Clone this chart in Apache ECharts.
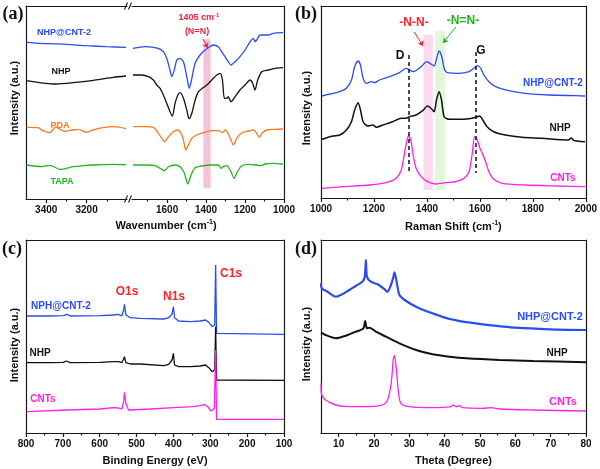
<!DOCTYPE html>
<html><head><meta charset="utf-8">
<script src="https://cdn.jsdelivr.net/npm/echarts@6/dist/echarts.min.js"></script>
<style>html,body{margin:0;padding:0;background:#fff}#c{width:600px;height:469px}</style>
</head><body><div id="c"></div>
<script>
// ---------- DATA ----------
// (a) FTIR, left segment (wavenumber, relative intensity)
const ftirCntL = [[3497,156.7],[3431,155.7],[3365,155.2],[3299,154.7],[3200,153.3],[3102,152.3],[3005,151.7]];
const ftirNhpL = [[3497,118.3],[3431,116.3],[3365,115],[3299,115.7],[3216,117.3],[3134,119.7],[3068,121.7],[3005,123]];
const ftirPdaL = [[3497,71.7],[3440,71.3],[3415,68.3],[3382,66.3],[3365,69.7],[3352,72],[3332,69.7],[3308,67.7],[3275,69],[3242,69.7],[3201,66.7],[3168,69],[3119,71.3],[3061,72.3],[3005,70.3]];
const ftirTapaL = [[3497,34],[3423,32.3],[3382,33.7],[3332,29.7],[3266,32.3],[3201,33.7],[3135,34.3],[3069,34.7],[3005,34.3]];
// (a) FTIR, right segment
const ftirCntR = [[1775,150.7],[1713,152.3],[1645,150.7],[1619,147.3],[1602,140.7],[1585,129],[1576,122.3],[1563,129],[1550,139],[1533,140.7],[1516,137.3],[1499,122.3],[1486,110.7],[1473,120.7],[1456,135.7],[1431,144],[1405,149],[1380,152.3],[1363,154],[1337,152.3],[1320,147.3],[1303,142.3],[1286,137.3],[1272,134],[1251,137.3],[1226,142.3],[1200,149],[1174,157.3],[1157,160.7],[1149,157.3],[1140,159],[1123,164],[1080,164],[1055,165.7],[1005,166.3]];
const ftirNhpR = [[1775,124],[1730,124],[1696,122.3],[1670,119],[1653,114],[1636,110.7],[1619,104],[1602,95.7],[1585,87.3],[1573,83],[1559,95.7],[1545,104],[1533,106.3],[1516,100.7],[1499,89],[1487,80.3],[1473,85.7],[1456,99],[1439,107.3],[1419,110.7],[1396,114],[1371,119],[1345,124],[1328,125.7],[1316,119],[1306,100.7],[1294,100.7],[1286,102.3],[1272,97.3],[1251,102.3],[1226,109],[1200,114],[1174,119],[1161,115.7],[1149,109],[1135,119],[1114,127.3],[1081,129],[1046,130.7],[1005,131.3]];
const ftirPdaR = [[1775,72.3],[1713,72.3],[1670,71.7],[1645,65.7],[1627,60.7],[1614,57.3],[1593,62.3],[1568,67.3],[1545,69],[1528,65.7],[1516,59],[1504,49],[1491,54],[1473,60.7],[1448,64],[1414,66.3],[1371,68.3],[1337,68.3],[1314,66.3],[1303,69],[1286,65.7],[1272,59],[1260,54],[1243,60.7],[1217,66.3],[1183,68],[1157,69],[1140,65.7],[1127,61.7],[1111,66.3],[1089,69],[1046,69.7],[1005,70]];
const ftirTapaR = [[1775,34],[1713,34],[1662,33.3],[1636,30.7],[1614,28.3],[1593,32.3],[1559,34],[1533,32.3],[1511,25.7],[1494,15],[1477,24],[1456,31.3],[1422,33],[1371,34],[1337,34],[1323,30.7],[1311,32.3],[1294,33.3],[1272,27.3],[1256,20.7],[1239,27.3],[1217,33.3],[1183,34.7],[1140,34],[1123,33.3],[1097,35],[1055,35.7],[1005,35]];
const ftirBand = [1414, 1376];

// (b) Raman (shift, relative intensity)
const ramanCnt2 = [[1003,102],[1034,104],[1071,106.3],[1096,109.7],[1115,118],[1127,131.3],[1140,137],[1149,133],[1159,119.7],[1171,114.7],[1190,116.3],[1202,115.3],[1221,118],[1259,121.3],[1296,125.3],[1321,129.7],[1332,128.5],[1345,126.5],[1358,127.3],[1378,131.3],[1399,136.3],[1415,134],[1427,132],[1438,141.3],[1446,147],[1456,141.3],[1465,129.7],[1477,125.3],[1521,124.7],[1559,126.3],[1577,129.7],[1590,132.3],[1603,129.7],[1615,123],[1634,116.3],[1659,111.3],[1709,107.3],[1771,104.7],[1859,103],[1959,102.3],[1997,102]];
const ramanNhp = [[1003,58.7],[1034,61.3],[1071,63],[1096,68],[1115,76.3],[1127,88],[1140,95.3],[1149,88],[1159,76.3],[1177,72],[1196,73],[1209,70.7],[1234,73],[1271,76.3],[1303,79.7],[1321,79.7],[1334,81.3],[1359,83],[1384,87.3],[1402,92],[1415,89.7],[1427,86.3],[1436,98],[1446,106.3],[1455,98],[1465,81.3],[1484,78.7],[1521,78.7],[1559,79.3],[1584,80.7],[1599,82],[1609,78.7],[1627,71.3],[1652,66.3],[1696,63],[1759,60.7],[1834,59.7],[1934,58],[1945,60],[1955,57.5],[1997,56.3]];
const ramanCnts = [[1003,9.7],[1084,11.3],[1184,13],[1246,15.3],[1284,19.7],[1303,28],[1315,44.7],[1325,58],[1331,62],[1340,56.3],[1349,41.3],[1359,29.7],[1378,21.3],[1402,16.3],[1434,14],[1471,15.3],[1509,16.3],[1540,19.7],[1559,26.3],[1571,44.7],[1580,61.3],[1590,58],[1600,49.7],[1609,44.7],[1619,38],[1634,26.3],[1652,18.7],[1684,14.7],[1771,13],[1896,12],[1997,11.3]];
const ramanBandNN = [1387, 1422];
const ramanBandN2 = [1431, 1468];
const ramanDG = [1330, 1584];

// (c) XPS (binding energy, relative intensity)
const xpsCnt2 = [[798,117],[735,117],[699,117.3],[689,118.7],[680,117],[599,117.3],[563,118],[549,118.7],[540,117],[535,123],[533,128.7],[529,118],[517,115.3],[490,114.7],[485,115.7],[426,114],[413,115.3],[404,118.7],[400,126.3],[397,115.3],[386,112],[354,111.3],[327,112],[313,113],[304,110.7],[295,106.3],[288,108],[285.5,168],[283,99.7],[100,98.7]];
const xpsNhp = [[798,70.3],[735,70.3],[699,70.7],[691,72],[680,70.3],[599,70.7],[563,71.3],[549,71.3],[540,70.3],[535,74],[533,76.3],[529,70.3],[517,69],[490,69],[485,69.7],[426,67.3],[413,68.7],[404,73],[400,79.7],[397,68],[386,66.3],[354,66.3],[327,67],[313,68],[304,65.3],[295,61.3],[288,63],[285.5,106.3],[283,53],[100,52.7]];
const xpsCnts = [[798,21.3],[689,23],[599,24],[563,25.3],[549,25],[540,24],[535,31.3],[533,40.7],[529,29.7],[522,23],[463,24],[399,25.3],[345,26.3],[327,27.3],[316,28.7],[307,26.3],[298,22],[289,24.7],[285.5,83],[283,13.7],[100,13.7]];

// (d) XRD (2theta, relative intensity)
const xrdCnt2 = [[5,149.7],[5.2,144.7],[6.8,141.3],[9.2,136.3],[11,138.7],[13,143],[14.9,147.3],[16.7,151.3],[17.4,156.3],[17.7,173],[18,156.3],[19.1,151.3],[21,148.7],[22.9,144],[23.8,141.3],[24.8,148],[25.5,156.3],[25.8,160.7],[26.4,151.3],[27.2,138],[29.1,132],[31.9,126.3],[34.7,122],[38.5,117.3],[41.4,114],[43.3,112.7],[45.1,111.3],[50.8,108.7],[60.3,105.3],[69.8,103.7],[80,103]];
const xrdNhp = [[5,100.7],[6.3,98],[9.2,94.7],[12,97.3],[14.9,101.3],[17,104.7],[17.5,112],[18,104.7],[18.8,105.3],[20.5,101.3],[23.4,96.3],[27.2,89.7],[31.9,83],[36.6,78.7],[41.4,76.3],[46.1,74.7],[55.6,73],[65,72],[80,70.7]];
const xrdCnts = [[5,49.7],[5.2,38],[6.3,33],[9.2,28],[13,26.3],[17.7,26.3],[21.5,27.3],[23.6,31.3],[24.8,48],[25.5,74.7],[25.8,77.3],[26.3,64.7],[26.9,41.3],[27.6,29.7],[30,26.3],[36.6,25.3],[41.8,26.3],[42.3,28],[43.3,26.3],[44.2,27.3],[45.1,25.3],[50.8,24.7],[53.2,25.3],[55.6,24],[65,23],[80,22]];

// tick labels
const ticksAL = [3200, 3400], minorAL = [3100, 3300];
const ticksAR = [1000, 1200, 1400, 1600], minorAR = [1100, 1300, 1500, 1700];
const ticksB = [1000, 1200, 1400, 1600, 1800, 2000], minorB = [1100, 1300, 1500, 1700, 1900];
const ticksC = [100, 200, 300, 400, 500, 600, 700, 800], minorC = [150, 250, 350, 450, 550, 650, 750];
const ticksD = [10, 20, 30, 40, 50, 60, 70, 80], minorD = [15, 25, 35, 45, 55, 65, 75];

// ---------- STYLE ----------
const F = '"Liberation Sans", Arial, Helvetica, sans-serif';
const SERIF = '"Liberation Serif", "Times New Roman", serif';
const BLUE = '#2a4cf2', BLACK = '#111111', ORANGE = '#f57c22', GREEN = '#22b422', MAG = '#ff22e6', RED = '#ff2323', PINKRED = '#ee2244';
const AX = { color: '#1a1a1a', width: 1.2 };

const chart = echarts.init(document.getElementById('c'), null, { renderer: 'canvas' });

const grids = [
  { left: 26, top: 6, width: 101, height: 193 },
  { left: 132, top: 6, width: 152, height: 193 },
  { left: 321, top: 6, width: 266, height: 192 },
  { left: 26, top: 240, width: 258, height: 193 },
  { left: 321, top: 240, width: 265, height: 193 }
];

const supRich = {
  a: { fontFamily: F, fontSize: 11, fontWeight: 'bold', color: '#111', fill: '#111', lineHeight: 14 },
  s: { fontFamily: F, fontSize: 7, fontWeight: 'bold', color: '#111', fill: '#111', verticalAlign: 'top', lineHeight: 14 }
};

function xMain(g, min, max, inverse, majors, name) {
  return {
    type: 'value', gridIndex: g, min, max, inverse, position: 'bottom',
    axisLine: { show: true, onZero: false, lineStyle: AX },
    axisTick: { show: true, customValues: majors, length: 4, lineStyle: AX },
    axisLabel: { customValues: majors, margin: 6, fontFamily: F, fontWeight: 'bold', fontSize: 10, color: '#111',
      formatter: function (v) { return String(v); } },
    splitLine: { show: false },
    name: name || '', nameLocation: 'middle', nameGap: 22,
    nameTextStyle: { fontFamily: F, fontSize: 11, fontWeight: 'bold', color: '#111', rich: supRich }
  };
}
function xTop(g, min, max, inverse) {
  return { type: 'value', gridIndex: g, min, max, inverse, position: 'top',
    axisLine: { show: true, onZero: false, lineStyle: AX }, axisTick: { show: false }, axisLabel: { show: false }, splitLine: { show: false } };
}
function xMinor(g, min, max, inverse, minors) {
  return { type: 'value', gridIndex: g, min, max, inverse, position: 'bottom',
    axisLine: { show: false, onZero: false }, axisTick: { show: true, customValues: minors, length: 2.5, lineStyle: AX },
    axisLabel: { show: false }, splitLine: { show: false } };
}
function yAx(g, max, pos) {
  return { type: 'value', gridIndex: g, min: 0, max, position: pos,
    axisLine: { show: true, onZero: false, lineStyle: AX }, axisTick: { show: false }, axisLabel: { show: false }, splitLine: { show: false } };
}

const xAxis = [
  xMain(0, 3000, 3500, true, ticksAL), xTop(0, 3000, 3500, true), xMinor(0, 3000, 3500, true, minorAL),
  xMain(1, 1000, 1780, true, ticksAR), xTop(1, 1000, 1780, true), xMinor(1, 1000, 1780, true, minorAR),
  xMain(2, 1000, 2000, false, ticksB, '{a|Raman Shift (cm}{s|-1}{a|)}'), xTop(2, 1000, 2000, false), xMinor(2, 1000, 2000, false, minorB),
  xMain(3, 100, 800, true, ticksC, 'Binding Energy (eV)'), xTop(3, 100, 800, true), xMinor(3, 100, 800, true, minorC),
  xMain(4, 5, 80, false, ticksD, 'Theta (Degree)'), xTop(4, 5, 80, false), xMinor(4, 5, 80, false, minorD)
];
const yAxis = [
  yAx(0, 193, 'left'), yAx(1, 193, 'right'),
  yAx(2, 192, 'left'), yAx(2, 192, 'right'),
  yAx(3, 193, 'left'), yAx(3, 193, 'right'),
  yAx(4, 193, 'left'), yAx(4, 193, 'right')
];

function line(data, color, xi, yi, w, smooth) {
  return { type: 'line', data, xAxisIndex: xi, yAxisIndex: yi, showSymbol: false, symbol: 'none',
    smooth: smooth === undefined ? 0.25 : smooth, z: 3, silent: true,
    lineStyle: { color, width: w || 1.3 } };
}

const series = [
  // bands / markers (behind)
  { type: 'line', data: [], xAxisIndex: 3, yAxisIndex: 1, z: 1, silent: true,
    markArea: { silent: true, z: 1, itemStyle: { color: 'rgba(247,184,218,0.9)', borderColor: 'rgba(228,240,190,0.9)', borderWidth: 0.8 },
      data: [[{ coord: [ftirBand[0], 160] }, { coord: [ftirBand[1], 11] }]] },
    markLine: { silent: true, symbol: ['none', 'arrow'], symbolSize: 5, label: { show: false },
      lineStyle: { color: PINKRED, width: 1, type: 'solid' },
      data: [[{ coord: [1416, 160] }, { coord: [1392, 151] }]] } },
  { type: 'line', data: [], xAxisIndex: 6, yAxisIndex: 2, z: 1, silent: true,
    markArea: { silent: true, z: 1,
      data: [
        [{ coord: [ramanBandNN[0], 163], itemStyle: { color: 'rgba(250,214,234,0.9)' } }, { coord: [ramanBandNN[1], 8] }],
        [{ coord: [ramanBandN2[0], 167], itemStyle: { color: 'rgba(224,248,218,0.95)' } }, { coord: [ramanBandN2[1], 8] }]
      ] },
    markLine: { silent: true, symbol: ['none', 'arrow'], symbolSize: 5, label: { show: false },
      data: [
        [{ coord: [1352, 166], lineStyle: { color: RED, width: 1, type: 'solid' } }, { coord: [1385, 152] }],
        [{ coord: [1509, 171], lineStyle: { color: GREEN, width: 1, type: 'solid' } }, { coord: [1461, 155] }]
      ] } },
  { type: 'line', data: [], xAxisIndex: 6, yAxisIndex: 2, z: 4, silent: true,
    markLine: { silent: true, symbol: 'none', label: { show: false },
      lineStyle: { color: BLACK, width: 1.5, type: [4, 3] },
      data: [
        [{ coord: [ramanDG[0], 143] }, { coord: [ramanDG[0], 26] }],
        [{ coord: [ramanDG[1], 146] }, { coord: [ramanDG[1], 25] }]
      ] } },
  // (a)
  line(ftirCntL, BLUE, 0, 0), line(ftirNhpL, BLACK, 0, 0), line(ftirPdaL, ORANGE, 0, 0), line(ftirTapaL, GREEN, 0, 0),
  line(ftirCntR, BLUE, 3, 1), line(ftirNhpR, BLACK, 3, 1), line(ftirPdaR, ORANGE, 3, 1), line(ftirTapaR, GREEN, 3, 1),
  // (b)
  line(ramanCnt2, BLUE, 6, 2), line(ramanNhp, BLACK, 6, 2, 1.5), line(ramanCnts, MAG, 6, 2),
  // (c)
  line(xpsCnt2, BLUE, 9, 4, 1.3, false), line(xpsNhp, BLACK, 9, 4, 1.3, false), line(xpsCnts, MAG, 9, 4, 1.3, false),
  // (d)
  line(xrdCnt2, BLUE, 12, 6, 2.2), line(xrdNhp, BLACK, 12, 6, 2), line(xrdCnts, MAG, 12, 6, 1.3)
];

function txt(x, y, s, color, size, fam) {
  return { type: 'text', x, y, silent: true, z: 10,
    style: { text: s, fill: color, font: 'bold ' + size + 'px ' + (fam || F), align: 'center', verticalAlign: 'middle' } };
}
function ytitle(x, y) {
  return { type: 'text', x, y, rotation: Math.PI / 2, silent: true, z: 10,
    style: { text: 'Intensity (a.u.)', fill: '#111', font: 'bold 11px ' + F, align: 'center', verticalAlign: 'middle' } };
}
function brk(x, y) {
  return { type: 'line', silent: true, z: 10, shape: { x1: x, y1: y + 3.5, x2: x + 3, y2: y - 3.5 }, style: { stroke: '#1a1a1a', lineWidth: 1.1 } };
}

const graphic = [
  // panel letters
  txt(13, 14, '(a)', '#111', 18, SERIF), txt(306, 14, '(b)', '#111', 18, SERIF),
  txt(12, 249, '(c)', '#111', 18, SERIF), txt(306, 249, '(d)', '#111', 18, SERIF),
  // y titles
  ytitle(15, 98), ytitle(307, 108), ytitle(15, 345), ytitle(307, 344),
  // (a) x title
  { type: 'text', x: 166, y: 226, silent: true, z: 10,
    style: { text: '{a|Wavenumber (cm}{s|-1}{a|)}', rich: supRich, fill: '#111', align: 'center', verticalAlign: 'middle' } },
  // axis break marks
  brk(124.5, 199), brk(128.5, 199), brk(124.5, 6), brk(128.5, 6),
  // (a) labels
  txt(64, 33, 'NHP@CNT-2', BLUE, 9), txt(61, 72, 'NHP', BLACK, 9), txt(60, 126, 'PDA', ORANGE, 9), txt(62, 182, 'TAPA', GREEN, 9),
  { type: 'text', x: 199, y: 18, silent: true, z: 10,
    style: { text: '{a|1405 cm}{s|-1}', fill: PINKRED, align: 'center', verticalAlign: 'middle',
      rich: { a: { fontFamily: F, fontSize: 9, fontWeight: 'bold', fill: PINKRED, color: PINKRED, lineHeight: 12 },
              s: { fontFamily: F, fontSize: 6, fontWeight: 'bold', fill: PINKRED, color: PINKRED, verticalAlign: 'top', lineHeight: 12 } } } },
  txt(197, 32, '(N=N)', PINKRED, 9),
  // (b) labels
  txt(414, 23, '-N-N-', RED, 12), txt(463, 21, '-N=N-', GREEN, 12),
  txt(400, 56, 'D', BLACK, 12), txt(481, 51, 'G', BLACK, 12),
  txt(553, 83, 'NHP@CNT-2', BLUE, 10), txt(560, 128, 'NHP', BLACK, 10), txt(563, 178, 'CNTs', MAG, 10),
  // (c) labels
  txt(61, 306, 'NPH@CNT-2', BLUE, 10), txt(40, 353, 'NHP', BLACK, 10), txt(43, 399, 'CNTs', MAG, 10),
  txt(127, 292, 'O1s', RED, 12), txt(174, 297, 'N1s', RED, 12), txt(231, 274, 'C1s', RED, 12),
  // (d) labels
  txt(550, 317, 'NHP@CNT-2', BLUE, 11), txt(557, 353, 'NHP', BLACK, 10), txt(563, 402, 'CNTs', MAG, 11)
];

chart.setOption({ animation: false, backgroundColor: '#fff', grid: grids, xAxis, yAxis, series, graphic });
</script></body></html>
